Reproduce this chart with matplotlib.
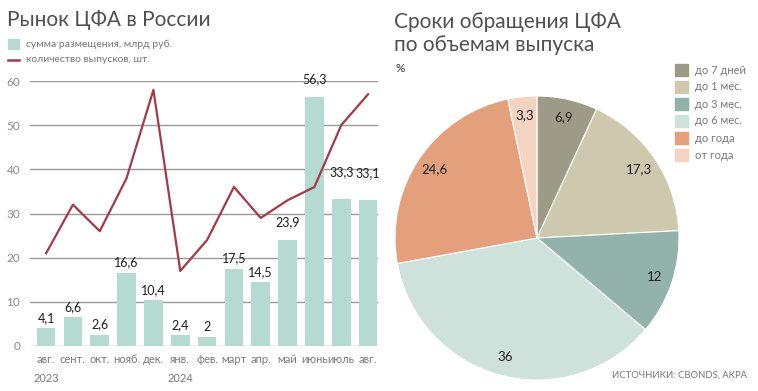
import numpy as np
import matplotlib.pyplot as plt

plt.rcParams['font.family'] = ['Lato', 'DejaVu Sans']

# данные: рынок ЦФА по месяцам
months = ['авг.', 'сент.', 'окт.', 'нояб.', 'дек.', 'янв.', 'фев.',
          'март', 'апр.', 'май', 'июнь', 'июль', 'авг.']
years = {0: '2023', 5: '2024'}
volume = [4.1, 6.6, 2.6, 16.6, 10.4, 2.4, 2, 17.5, 14.5, 23.9, 56.3, 33.3, 33.1]
issues = [21, 32, 26, 38, 58, 17, 24, 36, 29, 33, 36, 50, 57]

# данные: сроки обращения
terms = ['до 7 дней', 'до 1 мес.', 'до 3 мес.', 'до 6 мес.', 'до года', 'от года']
shares = [6.9, 17.3, 12, 36, 24.6, 3.3]

bar_color = '#b5dad2'
line_color = '#a33a44'
pie_colors = ['#9d9b87', '#cdc9ae', '#92b2ab', '#cfe1db', '#e4a07c', '#f5d3c2']

W, H = 758, 391
fig = plt.figure(figsize=(W / 100, H / 100), dpi=100)


def px(x, y):
    return x / W, 1 - y / H


# ---------- левый график ----------
ax = fig.add_axes([30 / W, 45 / H, 348 / W, 265 / H])
x = list(range(len(months)))
ax.bar(x, volume, width=0.7, color=bar_color, zorder=2)
ax.plot(x, issues, color=line_color, lw=1.6, zorder=3)
ax.set_xlim(-0.6, 12.37)
ax.set_ylim(0, 60)
ax.set_yticks(range(0, 61, 10))
ax.grid(axis='y', color='#9a9a9a', lw=1, zorder=1)
ax.set_axisbelow(True)
for s in ax.spines.values():
    s.set_visible(False)
ax.tick_params(axis='y', length=0, pad=7, labelsize=8.5, labelcolor='#8a8a8a')
ax.tick_params(axis='x', length=0, pad=6, labelsize=8, labelcolor='#7a7a7a')
ax.set_xticks(x)
ax.set_xticklabels(months)

extra = {9: 6, 10: 6, 11: 12, 12: 12}
for i, v in enumerate(volume):
    ax.annotate(f'{v:g}'.replace('.', ','), (i, v), xytext=(0, 3 + extra.get(i, 0)),
                textcoords='offset points', ha='center', va='bottom',
                fontsize=9, color='#1e1e1e', annotation_clip=False)

for i, yr in years.items():
    ax.annotate(yr, (i, 0), xytext=(0, -23.5), textcoords='offset points',
                xycoords=('data', 'axes fraction'), ha='center', va='center',
                fontsize=8, color='#7a7a7a', annotation_clip=False)

fig.text(*px(7, 20), 'Рынок ЦФА в России', fontsize=15, color='#505050',
         va='center', ha='left')
fig.patches.append(plt.Rectangle(px(8, 49), 11 / W, 10 / H, transform=fig.transFigure,
                                 color=bar_color))
fig.text(*px(26, 44), 'сумма размещения, млрд руб.', fontsize=7.5, color='#777777',
         va='center')
fig.lines.append(plt.Line2D([8 / W, 19 / W], [1 - 60 / H] * 2, transform=fig.transFigure,
                            color=line_color, lw=1.8))
fig.text(*px(26, 60), 'количество выпусков, шт.', fontsize=7.5, color='#777777',
         va='center')

# ---------- правый график ----------
pax = fig.add_axes([395 / W, 11 / H, 284 / W, 284 / H])
wedges, _ = pax.pie(shares, colors=pie_colors, startangle=90, counterclock=False,
                    wedgeprops=dict(linewidth=0.8, edgecolor='white'))
pax.set_xlim(-1, 1)
pax.set_ylim(-1, 1)
pax.set_aspect('equal')

for w, v in zip(wedges, shares):
    ang = np.deg2rad((w.theta1 + w.theta2) / 2)
    r = 0.87
    pax.text(r * np.cos(ang), r * np.sin(ang), f'{v:g}'.replace('.', ','),
             ha='center', va='center', fontsize=9.5, color='#1e1e1e')

fig.text(*px(394, 22), 'Сроки обращения ЦФА', fontsize=15, color='#505050',
         va='center')
fig.text(*px(394, 45), 'по объемам выпуска', fontsize=15, color='#505050',
         va='center')
fig.text(*px(395, 68), '%', fontsize=8.5, color='#333333', va='center')

for k, (t, c) in enumerate(zip(terms, pie_colors)):
    yy = 70 + k * 17
    fig.patches.append(plt.Rectangle(px(675, yy + 6), 13 / W, 12 / H,
                                     transform=fig.transFigure, color=c))
    fig.text(*px(695, yy), t, fontsize=8, color='#777777', va='center')

fig.text(*px(747, 375), 'ИСТОЧНИКИ: CBONDS, АКРА', fontsize=6.8, color='#777777',
         ha='right', va='center')

fig.savefig('out.png', dpi=100)
